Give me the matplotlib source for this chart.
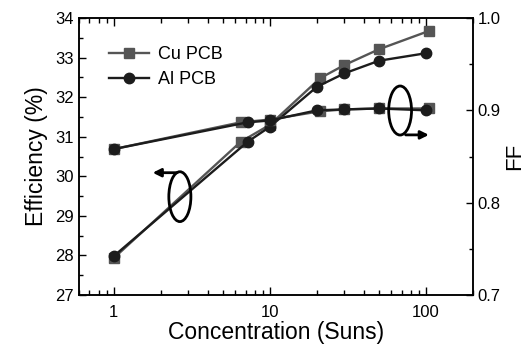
import matplotlib
matplotlib.use("Agg")
import matplotlib.pyplot as plt
from matplotlib.patches import Ellipse, FancyArrowPatch
from matplotlib.ticker import FixedLocator, NullFormatter, LogLocator

plt.rcParams['font.family'] = ['Liberation Sans', 'DejaVu Sans']

# Data
cu_x = [1, 6.5, 10, 21, 30, 50, 104]
al_x = [1, 7.2, 10, 20, 30, 50, 100]
cu_eff = [27.93, 30.87, 31.30, 32.48, 32.81, 33.21, 33.67]
al_eff = [27.98, 30.87, 31.25, 32.26, 32.60, 32.92, 33.11]
cu_ff = [0.858, 0.887, 0.890, 0.899, 0.901, 0.902, 0.902]
al_ff = [0.858, 0.887, 0.889, 0.900, 0.901, 0.902, 0.900]

cu_color = '#555555'
al_color = '#1c1c1c'

fig = plt.figure(figsize=(5.25, 3.5), dpi=100)
ax = fig.add_axes([79/525, 1-295/350, 394/525, 277/350])
ax2 = ax.twinx()

ax.plot(cu_x, cu_eff, color=cu_color, marker='s', ms=7, lw=1.7, label='Cu PCB', zorder=3)
ax.plot(al_x, al_eff, color=al_color, marker='o', ms=7.5, lw=1.7, label='Al PCB', zorder=4)
ax2.plot(cu_x, cu_ff, color=cu_color, marker='s', ms=7, lw=1.7, zorder=3)
ax2.plot(al_x, al_ff, color=al_color, marker='o', ms=7.5, lw=1.7, zorder=4)

ax.set_xscale('log')
ax.set_xlim(0.6, 200)
ax.set_ylim(27, 34)
ax2.set_ylim(0.7, 1.0)
ax.set_xticks([1, 10, 100])
ax.set_xticklabels(['1', '10', '100'])
ax.xaxis.set_minor_locator(LogLocator(base=10, subs=range(2, 10), numticks=20))
ax.xaxis.set_minor_formatter(NullFormatter())
ax.set_yticks(range(27, 35))
ax.yaxis.set_minor_locator(FixedLocator([27.5 + i for i in range(7)]))
ax2.set_yticks([0.7, 0.8, 0.9, 1.0])
ax2.set_yticklabels(['0.7', '0.8', '0.9', '1.0'])
ax2.yaxis.set_minor_locator(FixedLocator([0.75, 0.85, 0.95]))

for a in (ax, ax2):
    for s in a.spines.values():
        s.set_linewidth(1.1)
ax.tick_params(axis='x', which='both', direction='in', top=True, labelsize=12, pad=7)
ax.tick_params(axis='x', which='major', length=6, width=1)
ax.tick_params(axis='x', which='minor', length=3.5, width=1)
ax.tick_params(axis='y', which='both', direction='in', right=False, labelsize=12)
ax.tick_params(axis='y', which='major', length=5, width=1)
ax.tick_params(axis='y', which='minor', length=3, width=1)
ax2.tick_params(axis='y', which='both', direction='in', labelsize=12)
ax2.tick_params(axis='y', which='major', length=5, width=1)
ax2.tick_params(axis='y', which='minor', length=3, width=1)

ax.set_xlabel('Concentration (Suns)', fontsize=16.5, labelpad=1)
ax.set_ylabel('Efficiency (%)', fontsize=16.5, labelpad=5)
ax2.set_ylabel('FF', fontsize=16, labelpad=2)

leg = ax.legend(loc='upper left', frameon=False, fontsize=13, handlelength=2.2,
                borderaxespad=0.3, bbox_to_anchor=(0.045, 0.945), handletextpad=0.5,
                labelspacing=0.45)

# Annotations (ellipses with arrows)
ax.add_patch(Ellipse((0.256, 0.355), 0.056, 0.18, transform=ax.transAxes,
                     fill=False, lw=2, color='black', zorder=6))
ax.add_patch(FancyArrowPatch((0.256, 0.4415), (0.18, 0.4415), transform=ax.transAxes,
                             arrowstyle='-|>', mutation_scale=12, lw=2, color='black', zorder=6))
ax2.add_patch(Ellipse((0.815, 0.666), 0.058, 0.177, transform=ax2.transAxes,
                      fill=False, lw=2, color='black', zorder=6))
ax2.add_patch(FancyArrowPatch((0.822, 0.578), (0.895, 0.578), transform=ax2.transAxes,
                              arrowstyle='-|>', mutation_scale=12, lw=2, color='black', zorder=6))

fig.savefig('out.png', dpi=100)
